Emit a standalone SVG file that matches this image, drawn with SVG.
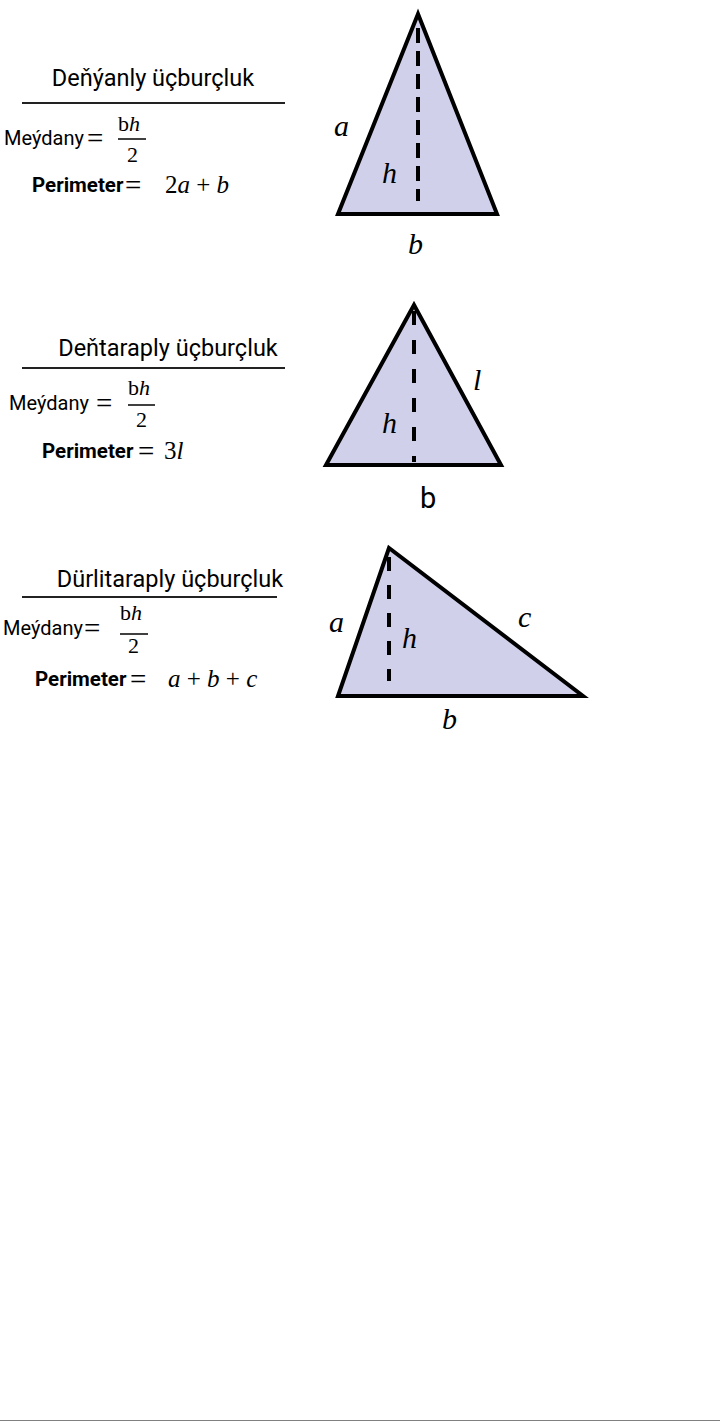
<svg xmlns="http://www.w3.org/2000/svg" width="720" height="1421" viewBox="0 0 720 1421">
<style>
.tri{fill:#d0d0ea;stroke:#000;stroke-width:4;stroke-linejoin:miter}
.dash{stroke:#000;stroke-width:4;fill:none}
.title{font-family:Roboto,"Liberation Sans",sans-serif;font-size:23.5px;fill:#000}
.lab{font-family:Roboto,"Liberation Sans",sans-serif;font-size:20px;fill:#000}
.bold{font-family:Roboto,"Liberation Sans",sans-serif;font-size:20.5px;font-weight:bold;fill:#000}
.m{font-family:"Liberation Serif","DejaVu Serif",serif;font-size:22px;fill:#000}
.eq{font-family:"Liberation Serif","DejaVu Serif",serif;font-size:29px;fill:#000}
.mx{font-family:"Liberation Serif","DejaVu Serif",serif;font-size:25px;fill:#000}
.tl{font-family:"Liberation Serif","DejaVu Serif",serif;font-size:30px;font-style:italic;fill:#000}
.rule{stroke:#222;stroke-width:2}
.frac{stroke:#000;stroke-width:1.5}
</style>
<rect width="720" height="1421" fill="#fff"/>
<g id="panel1">
  <text class="title" x="153" y="86" text-anchor="middle">Deňýanly üçburçluk</text>
  <line class="rule" x1="22" y1="103" x2="285" y2="103"/>
  <text class="lab" x="4" y="145">Meýdany</text>
  <text class="eq" x="87" y="148">=</text>
  <text class="m" x="118" y="131">b<tspan font-style="italic">h</tspan></text>
  <line class="frac" x1="118" y1="139" x2="146" y2="139"/>
  <text class="m" x="127" y="162">2</text>
  <text class="bold" x="32" y="192">Perimeter</text>
  <text class="eq" x="125" y="195">=</text>
  <text class="mx" x="165" y="193">2<tspan font-style="italic">a</tspan> + <tspan font-style="italic">b</tspan></text>
</g>
<g id="triangle1">
  <polygon class="tri" points="418,14 338,214 497,214"/>
  <line class="dash" x1="418" y1="28" x2="418" y2="201" stroke-dasharray="15 8"/>
  <text class="tl" x="334" y="136">a</text>
  <text class="tl" x="382" y="183">h</text>
  <text class="tl" x="408" y="254">b</text>
</g>
<g id="panel2">
  <text class="title" x="168" y="356" text-anchor="middle">Deňtaraply üçburçluk</text>
  <line class="rule" x1="22" y1="368" x2="285" y2="368"/>
  <text class="lab" x="9" y="410">Meýdany</text>
  <text class="eq" x="96" y="413">=</text>
  <text class="m" x="128" y="395">b<tspan font-style="italic">h</tspan></text>
  <line class="frac" x1="128" y1="405" x2="155" y2="405"/>
  <text class="m" x="136" y="427">2</text>
  <text class="bold" x="42" y="458">Perimeter</text>
  <text class="eq" x="138" y="461">=</text>
  <text class="mx" x="164" y="459">3<tspan font-style="italic">l</tspan></text>
</g>
<g id="triangle2">
  <polygon class="tri" points="414,305 326,465 501,465"/>
  <line class="dash" x1="414" y1="311" x2="414" y2="462" stroke-dasharray="14 15"/>
  <text class="tl" x="473" y="390">l</text>
  <text class="tl" x="382" y="433">h</text>
  <text x="420" y="508" font-family="Roboto,'Liberation Sans',sans-serif" font-size="29px" fill="#000">b</text>
</g>
<g id="panel3">
  <text class="title" x="170" y="587" text-anchor="middle">Dürlitaraply üçburçluk</text>
  <line class="rule" x1="22" y1="597" x2="277" y2="597"/>
  <text class="lab" x="3" y="635">Meýdany</text>
  <text class="eq" x="84" y="638">=</text>
  <text class="m" x="120" y="620">b<tspan font-style="italic">h</tspan></text>
  <line class="frac" x1="120" y1="634" x2="148" y2="634"/>
  <text class="m" x="128" y="653">2</text>
  <text class="bold" x="35" y="686">Perimeter</text>
  <text class="eq" x="130" y="689">=</text>
  <text class="mx" x="168" y="687"><tspan font-style="italic">a</tspan> + <tspan font-style="italic">b</tspan> + <tspan font-style="italic">c</tspan></text>
</g>
<g id="triangle3">
  <polygon class="tri" points="389,548 338,696 583,696"/>
  <line class="dash" x1="389" y1="557" x2="389" y2="681" stroke-dasharray="14 14"/>
  <text class="tl" x="329" y="632" font-size="26px">a</text>
  <text class="tl" x="402" y="648" font-size="26px">h</text>
  <text class="tl" x="518" y="627" font-size="26px">c</text>
  <text class="tl" x="442" y="729" font-size="26px">b</text>
</g>
<g id="connectors"></g>
<line x1="0" y1="1420.5" x2="720" y2="1420.5" stroke="#808080" stroke-width="1"/>
</svg>
